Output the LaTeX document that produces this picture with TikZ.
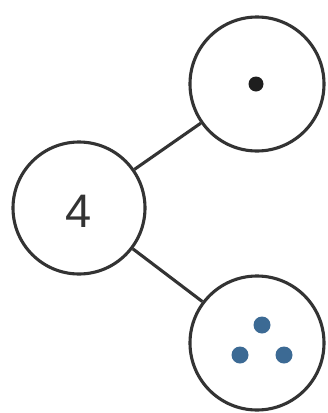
\documentclass[tikz,border=0pt]{standalone}
\usepackage{fontspec}
\setmainfont{Liberation Sans}
\definecolor{edgegray}{HTML}{333333}
\definecolor{dotblue}{HTML}{3C6A94}
\definecolor{dotblack}{HTML}{1E1E1E}
\begin{document}
\begin{tikzpicture}[x=1pt,y=-1pt,
  bubble/.style={circle,draw=edgegray,line width=3.1pt,fill=white,minimum size=#1,inner sep=0pt},
  link/.style={draw=edgegray,line width=3.1pt},
  bluedot/.style={circle,fill=dotblue,minimum size=17pt,inner sep=0pt},
  blackdot/.style={circle,fill=dotblack,minimum size=15pt,inner sep=0pt}]
\useasboundingbox (0,0) rectangle (328,413);
\node[bubble=132pt] (whole) at (79,208) {};
\node[bubble=134pt] (top) at (257,84) {};
\node[bubble=134pt] (bot) at (257,343) {};
\node (four) at (79,211) {\fontsize{47}{50}\selectfont\color{edgegray}4};
\draw[link] (whole) -- (top);
\draw[link] (whole) -- (bot);
\node[blackdot] (d1) at (256,84) {};
\node[bluedot] (b1) at (262,325) {};
\node[bluedot] (b2) at (240,355) {};
\node[bluedot] (b3) at (284,355) {};
\end{tikzpicture}
\end{document}
